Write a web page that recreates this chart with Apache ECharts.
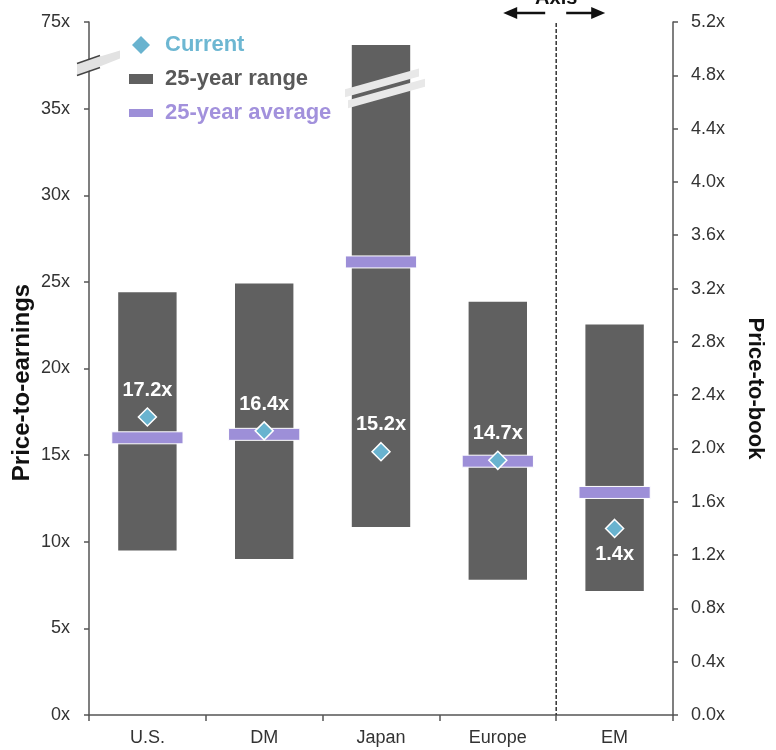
<!DOCTYPE html>
<html>
<head>
<meta charset="utf-8">
<script src="https://cdn.jsdelivr.net/npm/echarts@6/dist/echarts.min.js"></script>
<style>
  html, body { margin: 0; padding: 0; background: #fff; }
  #chart { width: 776px; height: 750px; }
</style>
</head>
<body>
<div id="chart"></div>
<script>
// Markets along the category axis
const categories = ['U.S.', 'DM', 'Japan', 'Europe', 'EM'];

// Price-to-earnings, plotted on the left axis
const peMarkets = ['U.S.', 'DM', 'Japan', 'Europe'];
const peLow = [9.5, 9.0, 10.85, 7.8];
const peHigh = [24.4, 24.9, 64.4, 23.85];
const peAverage = [16.0, 16.2, 26.15, 14.65];
const peCurrent = [17.2, 16.4, 15.2, 14.7];

// Price-to-book, plotted on the right axis
const pbMarkets = ['EM'];
const pbLow = [0.93];
const pbHigh = [2.93];
const pbAverage = [1.67];
const pbCurrent = [1.4];

// Left axis: linear up to 35x, then compressed so 75x sits one step above 35x
const PE_BREAK = 35;
const PE_TOP = 75;
const PE_STEP = 5;
function peScale(v) {
  return v <= PE_BREAK ? v : PE_BREAK + (v - PE_BREAK) * PE_STEP / (PE_TOP - PE_BREAK);
}
function peLabel(v) {
  return v > PE_BREAK ? PE_TOP + 'x' : v + 'x';
}

const COLORS = {
  range: '#606060',
  average: '#9d8fd8',
  current: '#69b3cf',
  currentText: '#6db7d2',
  rangeText: '#595959',
  averageText: '#a291dc',
  axis: '#555555',
  text: '#333333'
};
const FONT = '"Liberation Sans", Arial, sans-serif';

const chart = echarts.init(document.getElementById('chart'));

// 25-year range bar, with an optional break marker drawn across it
function renderRange(params, api) {
  const x = api.value(0);
  const top = api.coord([x, api.value(2)]);
  const bottom = api.coord([x, api.value(1)]);
  const bw = api.size([1, 0])[0] * 0.5;
  const children = [{
    type: 'rect',
    shape: { x: top[0] - bw / 2, y: top[1], width: bw, height: bottom[1] - top[1] },
    style: { fill: COLORS.range }
  }];
  const brk = api.value(3);
  if (brk) {
    const c = api.coord([x, brk]);
    const slope = 0.28;
    const t = 4;
    [[-6, -36, 38], [6, -33, 44]].forEach(function (s) {
      const cy = c[1] + s[0];
      const xa = c[0] + s[1], xb = c[0] + s[2];
      const ya = cy - slope * (xa - c[0]), yb = cy - slope * (xb - c[0]);
      children.push({
        type: 'polygon',
        shape: { points: [[xa, ya - t], [xb, yb - t], [xb, yb + t], [xa, ya + t]] },
        style: { fill: '#e8e8e8' }
      });
    });
  }
  return { type: 'group', children: children };
}

// 25-year average marker
function renderAverage(params, api) {
  const x = api.value(0);
  const c = api.coord([x, api.value(1)]);
  const w = api.size([1, 0])[0] * 0.61;
  const h = 12;
  return {
    type: 'rect',
    shape: { x: c[0] - w / 2, y: c[1] - h / 2, width: w, height: h },
    style: { fill: COLORS.average, stroke: '#ffffff', lineWidth: 1 }
  };
}

const peRangeData = peMarkets.map(function (m, i) {
  return [m, peScale(peLow[i]), peScale(peHigh[i]), peHigh[i] > PE_BREAK ? PE_BREAK + 1.13 : 0];
});
const pbRangeData = pbMarkets.map(function (m, i) {
  return [m, pbLow[i], pbHigh[i], 0];
});
const peAvgData = peMarkets.map(function (m, i) { return [m, peScale(peAverage[i])]; });
const pbAvgData = pbMarkets.map(function (m, i) { return [m, pbAverage[i]]; });
const peCurData = peMarkets.map(function (m, i) { return [m, peScale(peCurrent[i])]; });
const pbCurData = pbMarkets.map(function (m, i) { return [m, pbCurrent[i]]; });

const valueLabel = {
  show: true,
  color: '#ffffff',
  fontFamily: FONT,
  fontWeight: 'bold',
  fontSize: 20
};

const option = {
  animation: false,
  backgroundColor: '#ffffff',
  grid: { left: 89, right: 103, top: 22, bottom: 35, outerBoundsMode: 'none', containLabel: false },
  legend: {
    orient: 'vertical',
    left: 124,
    top: 28,
    itemWidth: 24,
    itemHeight: 18,
    itemGap: 10,
    selectedMode: false,
    textStyle: { fontFamily: FONT, fontWeight: 'bold', fontSize: 22, lineHeight: 24, padding: [0, 0, 0, 7] },
    data: [
      { name: 'Current', icon: 'path://M8.5,0L17,8.5L8.5,17L0,8.5z',
        itemStyle: { color: COLORS.current, borderWidth: 0 },
        textStyle: { color: COLORS.currentText } },
      { name: '25-year range', icon: 'path://M0,0h24v10h-24z',
        itemStyle: { color: COLORS.range, borderWidth: 0 },
        textStyle: { color: COLORS.rangeText } },
      { name: '25-year average', icon: 'path://M0,0h24v8h-24z',
        itemStyle: { color: COLORS.average, borderWidth: 0 },
        textStyle: { color: COLORS.averageText } }
    ]
  },
  xAxis: {
    type: 'category',
    data: categories,
    boundaryGap: true,
    axisLine: { lineStyle: { color: COLORS.axis, width: 1.5 } },
    axisTick: { show: true, length: 6, lineStyle: { color: COLORS.axis, width: 1.5 } },
    axisLabel: { color: COLORS.text, fontFamily: FONT, fontSize: 18, margin: 14 }
  },
  yAxis: [
    {
      type: 'value',
      min: 0,
      max: peScale(PE_TOP),
      interval: PE_STEP,
      position: 'left',
      name: 'Price-to-earnings',
      nameLocation: 'middle',
      nameRotate: 90,
      nameGap: 55,
      nameMoveOverlap: false,
      nameTextStyle: { color: '#111', fontFamily: FONT, fontWeight: 'bold', fontSize: 24,
        padding: [0, 28, 0, 0] },
      splitLine: { show: false },
      axisLine: { show: true, lineStyle: { color: COLORS.axis, width: 1.5 } },
      axisTick: { show: true, length: 5, lineStyle: { color: COLORS.axis, width: 1.5 } },
      axisLabel: { color: COLORS.text, fontFamily: FONT, fontSize: 18, margin: 19, formatter: peLabel }
    },
    {
      type: 'value',
      min: 0,
      max: 5.2,
      interval: 0.4,
      position: 'right',
      name: 'Price-to-book',
      nameLocation: 'middle',
      nameRotate: -90,
      nameGap: 71,
      nameTextStyle: { color: '#111', fontFamily: FONT, fontWeight: 'bold', fontSize: 22,
        padding: [0, 0, 0, 40] },
      splitLine: { show: false },
      axisLine: { show: true, lineStyle: { color: COLORS.axis, width: 1.5 } },
      axisTick: { show: true, length: 5, lineStyle: { color: COLORS.axis, width: 1.5 } },
      axisLabel: { color: COLORS.text, fontFamily: FONT, fontSize: 18, margin: 18,
        formatter: function (v) { return v.toFixed(1) + 'x'; } }
    }
  ],
  series: [
    { name: '25-year range', type: 'custom', yAxisIndex: 0, renderItem: renderRange,
      encode: { x: 0, y: [1, 2] }, itemStyle: { color: COLORS.range }, z: 1, data: peRangeData },
    { name: '25-year range', type: 'custom', yAxisIndex: 1, renderItem: renderRange,
      encode: { x: 0, y: [1, 2] }, itemStyle: { color: COLORS.range }, z: 1, data: pbRangeData },
    { name: '25-year average', type: 'custom', yAxisIndex: 0, renderItem: renderAverage,
      encode: { x: 0, y: 1 }, itemStyle: { color: COLORS.average }, z: 2, data: peAvgData },
    { name: '25-year average', type: 'custom', yAxisIndex: 1, renderItem: renderAverage,
      encode: { x: 0, y: 1 }, itemStyle: { color: COLORS.average }, z: 2, data: pbAvgData },
    { name: 'Current', type: 'scatter', yAxisIndex: 0, symbol: 'diamond', symbolSize: 18,
      z: 3,
      itemStyle: { color: COLORS.current, borderColor: '#ffffff', borderWidth: 1.5, opacity: 1 },
      label: Object.assign({}, valueLabel, { position: 'top', distance: 7,
        formatter: function (p) { return peCurrent[p.dataIndex].toFixed(1) + 'x'; } }),
      data: peCurData },
    { name: 'Current', type: 'scatter', yAxisIndex: 1, symbol: 'diamond', symbolSize: 18,
      z: 3,
      itemStyle: { color: COLORS.current, borderColor: '#ffffff', borderWidth: 1.5, opacity: 1 },
      label: Object.assign({}, valueLabel, { position: 'bottom', distance: 6,
        formatter: function (p) { return pbCurrent[p.dataIndex].toFixed(1) + 'x'; } }),
      data: pbCurData }
  ]
};

chart.setOption(option);

// Decorations placed from the chart's own scales: axis break, axis divider and its label
(function addDecorations() {
  const usX = chart.convertToPixel({ xAxisIndex: 0 }, 'U.S.');
  const emX = chart.convertToPixel({ xAxisIndex: 0 }, 'EM');
  const euX = chart.convertToPixel({ xAxisIndex: 0 }, 'Europe');
  const band = emX - euX;
  const axisX = usX - band / 2;
  const dividerX = emX - band / 2;
  const topY = chart.convertToPixel({ yAxisIndex: 0 }, peScale(PE_TOP));
  const bottomY = chart.convertToPixel({ yAxisIndex: 0 }, 0);
  const breakY = chart.convertToPixel({ yAxisIndex: 0 }, PE_BREAK + PE_STEP / 2);

  const s = 0.35;
  function yAt(x, off) { return breakY + off - s * (x - axisX); }
  const x0 = axisX - 12, x1 = axisX + 31, xl = axisX + 11;
  const arrowY = 13;

  const graphics = [
    // light band behind the axis break
    { type: 'polygon', z: 10,
      shape: { points: [[x0, yAt(x0, -6)], [x1, yAt(x1, -4)], [x1, yAt(x1, 4)], [x0, yAt(x0, 6)]] },
      style: { fill: '#e2e2e2' } },
    { type: 'line', z: 11, shape: { x1: x0, y1: yAt(x0, -6), x2: xl, y2: yAt(xl, -6) },
      style: { stroke: '#444', lineWidth: 1.5 } },
    { type: 'line', z: 11, shape: { x1: x0, y1: yAt(x0, 6), x2: xl, y2: yAt(xl, 6) },
      style: { stroke: '#444', lineWidth: 1.5 } },
    // divider between the two valuation measures
    { type: 'line', z: 5, shape: { x1: dividerX, y1: topY + 1, x2: dividerX, y2: bottomY },
      style: { stroke: '#333', lineWidth: 1.5, lineDash: [4, 2] } },
    { type: 'text', z: 5, x: dividerX, y: 8,
      style: { text: 'Axis', fill: '#111', font: 'bold 20px ' + FONT, align: 'center', verticalAlign: 'bottom' } },
    // arrows pointing to each side of the divider
    { type: 'line', z: 5, shape: { x1: dividerX - 11, y1: arrowY, x2: dividerX - 42, y2: arrowY },
      style: { stroke: '#111', lineWidth: 2.5 } },
    { type: 'polygon', z: 5,
      shape: { points: [[dividerX - 53, arrowY], [dividerX - 39, arrowY - 6], [dividerX - 39, arrowY + 6]] },
      style: { fill: '#111' } },
    { type: 'line', z: 5, shape: { x1: dividerX + 10, y1: arrowY, x2: dividerX + 38, y2: arrowY },
      style: { stroke: '#111', lineWidth: 2.5 } },
    { type: 'polygon', z: 5,
      shape: { points: [[dividerX + 49, arrowY], [dividerX + 35, arrowY - 6], [dividerX + 35, arrowY + 6]] },
      style: { fill: '#111' } }
  ];
  chart.setOption({ graphic: graphics });
})();
</script>
</body>
</html>
